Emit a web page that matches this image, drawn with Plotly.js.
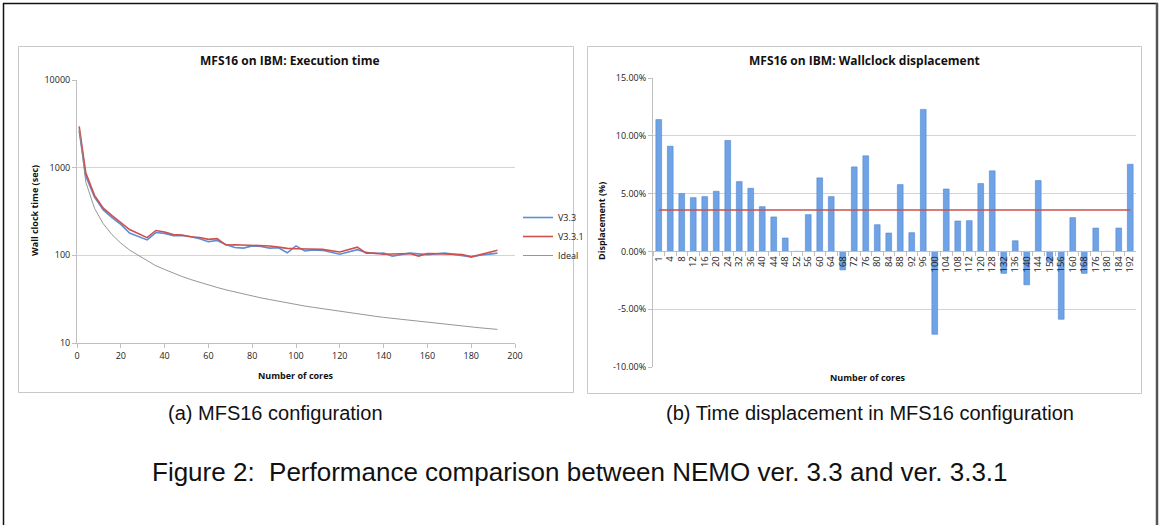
<!DOCTYPE html>
<html>
<head>
<meta charset="utf-8">
<script src="https://cdn.plot.ly/plotly-3.0.1.min.js"></script>
<style>html,body{margin:0;padding:0;background:#fff;}#fig{width:1160px;height:525px;}</style>
</head>
<body>
<div id="fig"></div>
<script>
// ---- data ----
const cores = [1,4,8,12,16,20,24,32,36,40,44,48,52,56,60,64,68,72,76,80,84,88,92,96,100,104,108,112,120,128,132,136,140,144,152,156,160,168,176,180,184,192];
const v33 = [2650,800,460,330,270,225,180,150,182,178,168,168,163,155,143,148,133,123,121,128,126,121,122,107,128,112,115,114,103,116,108,105,106,98,106,104,102,106,100,96,100,106];
const v331 = [2950,872,483,345,283,237,197,159,192,185,173,170,163,160,152,155,131,132,131,131,128,128,124,120,119,118,118,117,109,124,106,106,103,104,105,98,105,104,102,96,102,114];
const ideal = [2750,688,344,229,172,138,115,86,76,69,62.5,57.3,52.9,49.1,45.8,43.0,40.4,38.2,36.2,34.4,32.7,31.3,29.9,28.6,27.5,26.4,25.5,24.6,22.9,21.5,20.8,20.2,19.6,19.1,18.1,17.6,17.2,16.4,15.6,15.3,14.9,14.3];
const displacement = [11.4,9.1,5.0,4.65,4.74,5.2,9.6,6.04,5.46,3.87,2.98,1.16,0,3.18,6.36,4.74,-1.6,7.31,8.27,2.31,1.59,5.78,1.62,12.28,-7.17,5.4,2.63,2.66,5.87,6.97,-1.9,0.92,-2.89,6.13,-0.95,-5.87,2.92,-1.9,2.02,0,2.02,7.54];
const avgDisplacement = 3.58;
const coreLabels = cores.map(String);
const yTicksLeft = [10,100,1000,10000];
const yTicksRight = [-10,-5,0,5,10,15];

// ---- layout helpers (pixel -> paper) ----
const W = 1160, H = 525;
const px = v => v / W;
const py = v => 1 - v / H;

const chartFont = "Open Sans, DejaVu Sans, sans-serif";
const capFont = "Liberation Sans, Arial, sans-serif";

const rightDomY = [py(367), py(78)];
const rightRange = [-10, 15];
const zeroPos = rightDomY[0] + (0 - rightRange[0]) / (rightRange[1] - rightRange[0]) * (rightDomY[1] - rightDomY[0]);

const traces = [
  {x: cores, y: v33, type: 'scatter', mode: 'lines', name: 'V3.3', line: {color: '#5B8FD6', width: 1.6}, xaxis: 'x', yaxis: 'y'},
  {x: cores, y: v331, type: 'scatter', mode: 'lines', name: 'V3.3.1', line: {color: '#D0504D', width: 1.6}, xaxis: 'x', yaxis: 'y'},
  {x: cores, y: ideal, type: 'scatter', mode: 'lines', name: 'Ideal', line: {color: '#8a8a8a', width: 0.9}, xaxis: 'x', yaxis: 'y'},
  {x: coreLabels, y: displacement, type: 'bar', name: 'Displacement', showlegend: false,
   marker: {color: '#6FA3E6', line: {color: '#4F86D0', width: 0.6}}, xaxis: 'x2', yaxis: 'y2'},
  {x: [coreLabels[0], coreLabels[coreLabels.length-1]], y: [avgDisplacement, avgDisplacement], type: 'scatter', mode: 'lines',
   showlegend: false, line: {color: '#C9514E', width: 1.4}, xaxis: 'x2', yaxis: 'y2'}
];

const gray = '#bfbfbf';
function ann(text, x, y, size, family, extra) {
  return Object.assign({text: text, xref: 'paper', yref: 'paper', x: px(x), y: py(y), xanchor: 'center', yanchor: 'middle',
    showarrow: false, font: {size: size, family: family, color: '#111'}}, extra || {});
}
const layout = {
  width: W, height: H,
  margin: {l: 0, r: 0, t: 0, b: 0},
  paper_bgcolor: '#fff', plot_bgcolor: '#fff',
  font: {family: chartFont, size: 9, color: '#222'},
  showlegend: true,
  legend: {x: px(518), y: py(203), xanchor: 'left', yanchor: 'top', font: {size: 9, family: chartFont, color: '#222'},
           bgcolor: 'rgba(0,0,0,0)', tracegroupgap: 0, itemwidth: 30},
  bargap: 0.5,
  xaxis: {domain: [px(77), px(515)], range: [0, 200], dtick: 20, tick0: 0, showgrid: false, zeroline: false,
          showline: true, linecolor: gray, linewidth: 1, ticks: 'outside', ticklen: 4, tickcolor: gray,
          tickfont: {size: 9, family: chartFont, color: '#222'}, anchor: 'y', fixedrange: true},
  yaxis: {domain: [py(343), py(80)], type: 'log', range: [1, 4], tickvals: yTicksLeft, ticktext: yTicksLeft.map(String),
          showgrid: true, gridcolor: '#d4d4d4', gridwidth: 1, zeroline: false, showline: true, linecolor: gray,
          ticks: 'outside', ticklen: 4, tickcolor: gray, tickfont: {size: 9, family: chartFont, color: '#222'}, anchor: 'x', fixedrange: true},
  xaxis2: {domain: [px(653), px(1136)], type: 'category', tickangle: -90, anchor: 'free', position: zeroPos,
           tickmode: 'array', tickvals: coreLabels, ticktext: coreLabels,
           showgrid: false, zeroline: false, showline: true, linecolor: gray, ticks: 'outside', tickson: 'boundaries',
           ticklen: 4, tickcolor: gray, tickfont: {size: 9.5, family: chartFont, color: '#222'}, fixedrange: true},
  yaxis2: {domain: rightDomY, range: rightRange, tickvals: yTicksRight, ticktext: yTicksRight.map(v => v.toFixed(2) + '%'),
           showgrid: true, gridcolor: '#d4d4d4', zeroline: false, showline: true, linecolor: gray,
           ticks: 'outside', ticklen: 4, tickcolor: gray, tickfont: {size: 9, family: chartFont, color: '#222'}, anchor: 'x2', fixedrange: true},
  shapes: [
    {type: 'line', xref: 'paper', yref: 'paper', x0: px(3.5), x1: px(3.5), y0: py(3), y1: py(530), line: {color: '#111', width: 1.5}},
    {type: 'line', xref: 'paper', yref: 'paper', x0: px(3), x1: px(1158), y0: py(3.5), y1: py(3.5), line: {color: '#111', width: 1.5}},
    {type: 'line', xref: 'paper', yref: 'paper', x0: px(1157), x1: px(1157), y0: py(3), y1: py(530), line: {color: '#555', width: 2.5}},
    {type: 'rect', xref: 'paper', yref: 'paper', x0: px(18.5), x1: px(573.5), y0: py(392.5), y1: py(46.5), line: {color: '#c8c8c8', width: 1}},
    {type: 'rect', xref: 'paper', yref: 'paper', x0: px(587.5), x1: px(1141.5), y0: py(393.5), y1: py(46.5), line: {color: '#c8c8c8', width: 1}}
  ],
  annotations: [
    ann('<b>MFS16 on IBM: Execution time</b>', 290, 61, 12, chartFont),
    ann('<b>MFS16 on IBM: Wallclock displacement</b>', 864, 61, 12, chartFont),
    ann('<b>Wall clock time (sec)</b>', 34, 211, 9, chartFont, {textangle: -90}),
    ann('<b>Number of cores</b>', 296, 375, 9, chartFont),
    ann('<b>Displacement (%)</b>', 601, 221, 9, chartFont, {textangle: -90}),
    ann('<b>Number of cores</b>', 868, 377, 9, chartFont),
    ann('(a) MFS16 configuration', 275, 413, 20, capFont),
    ann('(b) Time displacement in MFS16 configuration', 870, 413, 20, capFont),
    ann('Figure 2:  Performance comparison between NEMO ver. 3.3 and ver. 3.3.1', 580, 472, 26, capFont)
  ]
};

Plotly.newPlot('fig', traces, layout, {staticPlot: true, displayModeBar: false});
</script>
</body>
</html>
